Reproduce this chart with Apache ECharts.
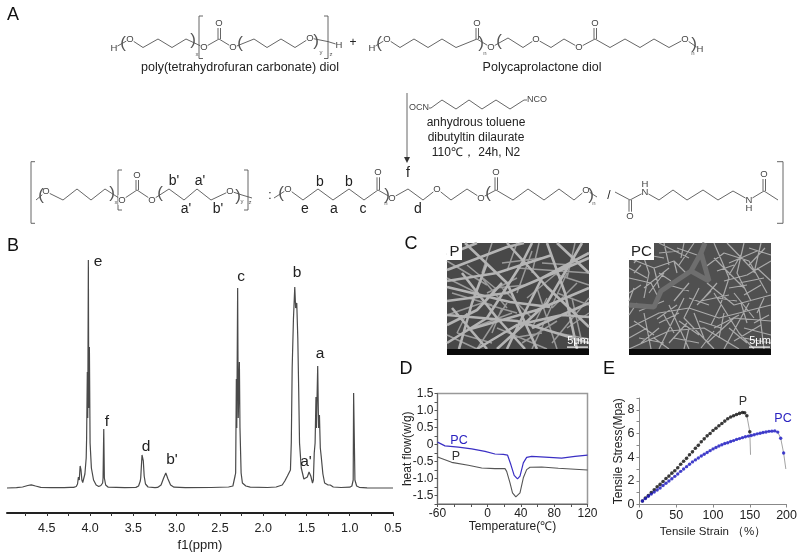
<!DOCTYPE html>
<html><head><meta charset="utf-8">
<style>html,body{margin:0;padding:0;background:#fff}#c{width:800px;height:556px}</style>
<script src="https://cdn.jsdelivr.net/npm/echarts@6/dist/echarts.min.js"></script>
</head><body><div id="c"></div>
<script>
// ---------- Panel B: 1H NMR spectrum ----------
const nmrPpm=[4.96,4.85,4.78,4.72,4.68,4.63,4.57,4.45,4.3,4.23,4.21,4.19,4.16,4.145,4.135,4.125,4.115,4.105,4.095,4.085,4.075,4.06,4.045,4.04,4.032,4.027,4.02,4.015,4.008,4.0,3.985,3.96,3.93,3.9,3.875,3.855,3.85,3.842,3.835,3.82,3.79,3.6,3.47,3.44,3.42,3.415,3.41,3.4,3.39,3.385,3.375,3.36,3.33,3.25,3.22,3.18,3.15,3.125,3.1,3.07,3.03,2.9,2.6,2.4,2.35,2.34,2.325,2.318,2.31,2.305,2.295,2.288,2.275,2.268,2.255,2.24,2.2,2.15,1.95,1.85,1.78,1.75,1.72,1.7,1.685,1.675,1.665,1.65,1.635,1.625,1.612,1.6,1.59,1.58,1.56,1.53,1.51,1.49,1.47,1.45,1.43,1.42,1.41,1.4,1.39,1.385,1.37,1.36,1.35,1.34,1.33,1.31,1.29,1.27,1.25,1.24,1.225,1.19,1.1,1.0,0.975,0.96,0.955,0.945,0.94,0.92,0.89,0.8,0.5];
const nmrInt=[0,0.3,1,2.5,3.2,2,0.7,0.3,0.3,0.6,1.2,0.6,1.5,4,11,8,22,18,8,5.5,5,14,30,50,116,70,228,80,141,45,20,8,3,1.5,2.5,5,10,59,10,3,0.8,0.3,0.6,2,7,10,9,33,33,27,12,4,1,0.3,0.6,3,10,15,9,3,0.8,0.3,0.5,1,2,6,12,15,109,60,200,70,126,60,15,5,2,0.8,0.5,1,3,7,12,13,18,46,120,170,201,180,185,150,100,45,20,9,7,11,16,12,5,8,35,45,91,60,122,60,73,40,32,14,5,3,3,5,3,1,0.5,0.8,2,8,95,95,8,2,0.7,0.2,0];
const nmrLabels=[0.5,1.0,1.5,2.0,2.5,3.0,3.5,4.0,4.5];
const nmrTicks=[0.5,0.75,1.0,1.25,1.5,1.75,2.0,2.25,2.5,2.75,3.0,3.25,3.5,3.75,4.0,4.25,4.5,4.75];

// ---------- Panel D: DSC curves ----------
const tempP=[-60,-43,-23,-7,9,21,23,27,30,34,39,43,47,51,65,85,120];
const flowP=[-0.37,-0.525,-0.61,-0.69,-0.71,-0.71,-0.79,-1.13,-1.42,-1.54,-1.42,-0.98,-0.74,-0.67,-0.66,-0.70,-0.75];
const tempPC=[-60,-51,-35,-19,-3,9,19,24,28,32,36,39,43,47,53,69,89,105,120];
const flowPC=[0.07,-0.04,-0.08,-0.13,-0.2,-0.28,-0.29,-0.31,-0.59,-0.91,-1.01,-0.93,-0.54,-0.38,-0.35,-0.37,-0.40,-0.35,-0.31];
const dscXLabels=[-60,0,40,80,120];
const dscXTicks=[-60,-40,-20,0,20,40,60,80,100,120];
const dscYLabels=[-1.5,-1,-0.5,0,0.5,1,1.5];
const dscYTicks=[-1.75,-1.5,-1.25,-1,-0.75,-0.5,-0.25,0,0.25,0.5,0.75,1,1.25,1.5];

// ---------- Panel E: tensile curves ----------
const strainP=[4,8,12,16,20,24,28,32,36,40,44,48,52,56,60,64,68,72,76,80,84,88,92,96,100,104,108,112,116,120,124,128,132,136,140,143,146,150];
const stressP=[0.3,0.55,0.75,1.0,1.25,1.5,1.7,1.95,2.2,2.4,2.65,2.85,3.1,3.4,3.65,3.9,4.2,4.45,4.75,5.0,5.3,5.55,5.8,6.0,6.25,6.45,6.65,6.85,7.05,7.25,7.4,7.5,7.6,7.7,7.78,7.75,7.5,6.15];
const tailP=[[151,4.2]];
const strainPC=[4,8,12,16,20,24,28,32,36,40,44,48,52,56,60,64,68,72,76,80,84,88,92,96,100,104,108,112,116,120,124,128,132,136,140,144,148,152,156,160,164,168,172,176,180,184,188,192,196];
const stressPC=[0.3,0.5,0.7,0.88,1.05,1.22,1.4,1.6,1.8,1.98,2.18,2.38,2.58,2.8,3.0,3.2,3.4,3.6,3.77,3.93,4.1,4.25,4.4,4.55,4.7,4.82,4.95,5.05,5.15,5.22,5.32,5.4,5.5,5.57,5.65,5.72,5.78,5.83,5.9,5.97,6.02,6.08,6.13,6.18,6.2,6.22,6.12,5.6,4.35];
const tailPC=[[199,3.0]];

// ---------- Panel A: reaction scheme (bond skeleton) ----------
const bonds=[
 [[114,48],[130,39],[143,47.5],[158,39],[172,47.5],[186,39],[204,47.5],[219,39],[233,47.5],[254,39],[267,47.5],[281,39],[295,47.5],[310,38],[328,41.6],[339,45]],
 [[218,39],[218,25]],[[220.5,39],[220.5,25]],
 [[203,16],[199,16],[199,58.5],[203,58.5]],[[324,16],[328,16],[328,58.5],[324,58.5]],
 [[372,48],[387,39],[400,47.5],[414,39],[428,47.5],[442,39],[456,47.5],[477,39],[491,47.5],[508,38],[523,47.5],[536,39],[551,47.5],[564,39],[579,47.5],[595,39],[610,47.5],[625,39],[640,47.5],[654,39],[669,47.5],[685,39],[700,49.4]],
 [[476,39],[476,25]],[[478.5,39],[478.5,25]],[[594,39],[594,25]],[[596.5,39],[596.5,25]],
 [[407,93],[407,158]],
 [[419,108],[431,108],[442,100],[456,109],[469,100],[482,109],[496,100],[510,109],[524,100],[537,100]],
 [[36,200],[46,191.6],[63,200],[77,189],[91,200],[105,189],[122,200],[137,190],[152,200],[169,189],[184,200],[197,189],[211,200],[230,191],[242,195],[252,198]],
 [[136,190],[136,178]],[[138.5,190],[138.5,178]],
 [[122,170],[118,170],[118,210],[122,210]],[[244,170],[248,170],[248,210],[244,210]],
 [[274,198],[288,189],[303,200],[318,189],[333,200],[349,189],[364,200],[378,190],[392,198],[408,189],[423,200],[437,189],[451,200],[467,189],[481,198],[496,190],[513,200],[528,189],[544,200],[559,189],[574,200],[586,190],[597,197]],
 [[377,190],[377,176]],[[379.5,190],[379.5,176]],[[495,190],[495,176]],[[497.5,190],[497.5,176]],
 [[615,192],[630,200],[645,192],[659,200],[673,190],[687,200],[703,190],[718,200],[733,191],[749,200],[764,191],[778,200]],
 [[629,200],[629,212]],[[631.5,200],[631.5,212]],[[763,191],[763,178]],[[765.5,191],[765.5,178]],
 [[35,161.7],[31,161.7],[31,223.3],[35,223.3]],[[777,161.7],[783,161.7],[783,223.3],[777,223.3]]
];

// ---------- Panel C: fibre outlines of the two micrographs (image-relative) ----------
const fibresPThick=[
 [[0,27],[60,4],[77,0]],[[0,44],[63,59],[103,64]],[[20,87],[90,67],[142,45]],[[0,82],[30,67],[55,40]],[[60,0],[100,44],[142,84]],
 [[0,100],[40,75],[75,20],[85,0]],[[30,0],[0,12]],[[142,10],[95,35],[70,85],[60,106]],[[15,30],[50,75],[78,106]],[[0,58],[60,50],[142,15]],
 [[100,0],[118,50],[130,106]],[[30,106],[70,82],[115,72],[142,74]],[[5,65],[40,106]],[[110,0],[142,30]],[[40,20],[25,60],[12,106]],
 [[0,38],[50,30],[105,12]],[[0,72],[70,78],[142,100]],[[50,106],[100,60],[135,0]],[[18,0],[60,40],[90,106]],[[85,85],[142,60]]
];
const fibresPThin=[
 [[45,0],[35,30]],[[70,25],[142,30]],[[20,22],[48,45],[80,42]],[[85,8],[70,50]],[[90,45],[110,106]],[[120,30],[85,106]],[[142,55],[105,100]],[[0,72],[35,60],[70,70]],
 [[50,85],[100,106]],[[60,60],[30,106]],[[128,0],[120,35]],[[142,62],[110,50]],[[95,20],[125,22]],[[0,35],[30,50]],[[75,100],[110,78]],[[10,90],[45,100]],
 [[55,20],[95,15]],[[35,35],[60,65]],[[100,55],[85,85]],[[125,55],[135,100]],
 [[0,18],[40,42]],[[0,92],[30,106]],[[25,85],[65,70]],[[65,95],[95,90]],[[105,30],[142,42]],[[110,90],[142,96]],[[70,0],[60,28]],[[40,50],[70,35]],[[80,55],[110,30]],[[120,85],[142,70]],
 [[5,50],[45,62]],[[20,70],[10,90]],[[55,45],[85,75]],[[92,0],[85,30]],[[130,40],[105,65]],[[45,90],[55,65]]
];
const fibresPCThick=[
 [[0,62],[25,64],[32,48],[62,28],[72,10],[76,0]],[[62,28],[80,38],[72,10]]
];
const fibresPCThin=[
 [[0,15],[25,25],[45,18],[57,30]],[[10,0],[20,30],[15,55]],[[0,35],[22,40],[28,52]],[[25,25],[30,45]],[[45,18],[48,30]],[[35,0],[40,22]],[[55,0],[52,15]],
 [[75,25],[95,10],[120,18],[138,50]],[[85,0],[100,35],[92,60]],[[115,0],[108,30],[122,58]],[[142,18],[118,32],[95,38]],[[78,40],[105,62],[142,52]],[[132,0],[125,30]],
 [[0,85],[30,70],[60,65],[90,75],[142,62]],[[0,106],[40,88],[75,85],[110,106]],[[40,62],[60,106]],[[55,55],[30,106]],[[70,45],[55,75],[85,106]],[[85,50],[110,90],[125,106]],
 [[142,78],[105,75],[78,100]],[[120,60],[95,106]],[[142,92],[115,85]],[[15,70],[22,106]],[[8,60],[0,72]],[[30,80],[50,70]],[[65,70],[75,95]],[[95,70],[90,95]],
 [[130,65],[135,106]],[[110,40],[135,35]],[[85,15],[115,45]],[[60,40],[45,58]],[[5,20],[15,8]],[[30,10],[50,8]],[[100,20],[128,8]],[[45,95],[70,100]],[[10,95],[35,100]],
 [[105,50],[125,75]],[[72,58],[100,52]],
 [[0,50],[12,42]],[[18,12],[35,15]],[[5,30],[12,22]],[[30,30],[42,38]],[[48,5],[68,12]],[[88,28],[105,22]],[[120,5],[142,12]],[[128,25],[142,38]],[[100,45],[118,42]],
 [[60,55],[80,62]],[[35,72],[45,90]],[[50,78],[70,92]],[[5,78],[25,92]],[[0,95],[18,85]],[[85,85],[110,72]],[[115,95],[142,100]],[[125,80],[140,72]],[[100,85],[118,100]],
 [[88,55],[108,58]],[[70,78],[92,85]],[[25,95],[40,106]],[[60,85],[55,106]],[[135,55],[128,70]],[[112,60],[118,80]],
 [[30,0],[60,15]],[[0,25],[18,35]],[[35,30],[20,50]],[[40,42],[60,48]],[[15,45],[40,25]],[[5,45],[0,58]],[[65,0],[50,22]],[[88,40],[75,55]],[[98,0],[125,28]],[[112,12],[100,32]],
 [[136,5],[120,22]],[[132,42],[115,52]],[[10,68],[35,58]],[[48,62],[28,76]],[[68,62],[82,48]],[[12,100],[30,85]],[[40,100],[58,80]],[[72,105],[85,88]],[[105,98],[132,82]],[[92,62],[82,82]]
];

// ---------- Text annotations ----------
const panelLetters=[['A',13,15],['B',13,246],['C',411,244],['D',406,369],['E',609,369]];
const schemeText=[
 ['poly(tetrahydrofuran carbonate) diol',240,68,12.5],['Polycaprolactone diol',542,68,12.5],['+',353,43,12],
 ['anhydrous toluene',476,123,12],['dibutyltin dilaurate',476,138,12],['110℃， 24h, N2',476,153,12],
 ["b'",174,181,14],["a'",200,181,14],["a'",186,209,14],["b'",218,209,14],['b',320,182,14],['b',349,182,14],
 ['e',305,209,14],['a',334,209,14],['c',363,209,14],['d',418,209,14],['f',408,173,14],[':',270,196,12],['/',609,196,12]
];
const atomText=[
 ['O',130,39],['H',114,48],['O',204,47.5],['O',219,23],['O',233,47.5],['O',310,38],['H',339,45],
 ['H',372,48],['O',387,39],['O',477,23],['O',491,47.5],['O',536,39],['O',579,47.5],['O',595,23],['O',685,39],['H',700,49.4],
 ['OCN',419,108],['NCO',537,100],
 ['O',46,191.6],['O',122,200],['O',137,175],['O',152,200],['O',230,191],
 ['O',288,189],['O',378,172.3],['O',392,198],['O',437,189],['O',481,198],['O',496,172.3],['O',586,190],
 ['O',630,216.7],['N',645,192],['H',645,184],['N',749,200],['H',749,208],['O',764,174]
];
const parenText=[['(',123,43,'('],[')',193,40,')'],['(',240,43,'('],[')',316,41.6,')'],['(',379,43,'('],[')',481,43,')'],['(',499,41.6,'('],[')',694,44,')'],
 ['(',41,195,'('],[')',112,193.6,')'],['(',160,193.6,'('],[')',238,196,')'],['(',281,193.6,'('],[')',387,195.5,')'],['(',488,193.6,'('],[')',591,195,')']];
const subText=[['x',197,54],['y',321,52],['z',331,54],['n',485,53],['n',693,53],['x',116,202.7],['y',242,201],['z',250,202.7],['n',386,203.3],['n',594,203.3]];
const peakLabels=[['e',98,262],['f',107,422],['d',146,447],["b'",172,460],['c',241,277],['b',297,273],["a'",306,462],['a',320,354]];

const FONT='"Liberation Sans",Arial,sans-serif';
const g=[];
function T(s,x,y,size,color,extra){
  g.push(Object.assign({type:'text',x:x,y:y,z:50,style:Object.assign({text:s,fontSize:size,fontFamily:FONT,fill:color||'#222',align:'center',verticalAlign:'middle'},extra||{})}));
}
panelLetters.forEach(a=>T(a[0],a[1],a[2],18,'#111'));
atomText.forEach(a=>T(a[0],a[1],a[2],a[0].length>1?9:9.5,'#444',{backgroundColor:'#fff'}));
schemeText.forEach(a=>T(a[0],a[1],a[2],a[3],'#222'));
parenText.forEach(a=>T(a[3],a[1],a[2],17,'#555',{fontWeight:'lighter'}));
subText.forEach(a=>T(a[0],a[1],a[2],6,'#555'));
peakLabels.forEach(a=>T(a[0],a[1],a[2],15.5,'#222'));
// arrow head
g.push({type:'polygon',z:50,shape:{points:[[404,157],[410,157],[407,163]]},style:{fill:'#333'}});
// SEM overlays
function semDecor(x0,label,w){
  g.push({type:'rect',z:40,shape:{x:x0,y:349,width:142,height:6},style:{fill:'#0a0a0a'}});
  g.push({type:'rect',z:40,shape:{x:x0,y:243,width:w,height:17},style:{fill:'#fff'}});
  T(label,x0+w/2,252,15,'#222');
  T('5μm',x0+131,341,11,'#fff');
  g.push({type:'rect',z:40,shape:{x:x0+120,y:346.5,width:21,height:1.2},style:{fill:'#fff'}});
}
semDecor(447,'P',15);semDecor(629,'PC',25);
T('PC',459,441,12.5,'#2a22c0');T('P',456,457,12.5,'#333');
T('P',743,402,12.5,'#333');T('PC',783,419,12.5,'#2a22c0');
T('f1(ppm)',200,545,13,'#222');

// helpers
const sep=a=>{const o=[];a.forEach(p=>{p.forEach(q=>o.push(q));o.push([null,null]);});return o;};
const zip=(x,y)=>x.map((v,i)=>[v,y[i]]);
const hiddenX=(gi,min,max)=>({gridIndex:gi,type:'value',min,max,show:false});
const hiddenY=(gi,min,max)=>({gridIndex:gi,type:'value',min,max,inverse:true,show:false});
const lab={fontFamily:FONT,fontSize:12.5,color:'#222'};
const labD={fontFamily:FONT,fontSize:12,color:'#222'};
const nameLab={fontFamily:FONT,fontSize:12,color:'#222'};
const fmt1=v=>v===0?'0':Number(v).toFixed(1);
function lineS(xi,data,color,w,z){return {type:'line',xAxisIndex:xi,yAxisIndex:xi,data,showSymbol:false,symbol:'none',connectNulls:false,smooth:false,silent:true,lineStyle:{color,width:w},z:z||2};}

const option={
 animation:false,backgroundColor:'#fff',textStyle:{fontFamily:FONT},
 graphic:{elements:g},
 grid:[
  {left:0,top:0,width:800,height:556,show:false},
  {left:7,top:250,width:386,height:263,show:false},
  {left:447,top:243,width:142,height:112,show:true,backgroundColor:'#484848',borderWidth:0},
  {left:629,top:243,width:142,height:112,show:true,backgroundColor:'#505050',borderWidth:0},
  {left:437.5,top:393.5,width:150,height:110.5,show:true,borderColor:'#999',borderWidth:1.5},
  {left:639.5,top:398,width:148,height:106.5,show:false}
 ],
 xAxis:[
  hiddenX(0,0,800),
  {gridIndex:1,type:'value',inverse:true,min:0.5,max:4.96,splitLine:{show:false},
   axisLine:{show:true,onZero:false,lineStyle:{color:'#222',width:2}},
   axisTick:{show:true,length:3,customValues:nmrTicks,lineStyle:{color:'#333'}},
   axisLabel:Object.assign({},lab,{margin:9,customValues:nmrLabels,formatter:v=>Number(v).toFixed(1)})},
  hiddenX(2,0,142),hiddenX(3,0,142),
  {gridIndex:4,type:'value',min:-60,max:120,splitLine:{show:false},name:'Temperature(℃)',nameLocation:'middle',nameGap:17,nameMoveOverlap:false,nameTextStyle:nameLab,
   axisLine:{show:true,onZero:false,lineStyle:{color:'#666',width:1}},
   axisTick:{show:true,length:3,customValues:dscXTicks,lineStyle:{color:'#555'}},
   axisLabel:Object.assign({},labD,{margin:4,customValues:dscXLabels,formatter:v=>String(v)})},
  {gridIndex:5,type:'value',min:0,max:200,interval:50,splitLine:{show:false},name:'Tensile Strain （%）',nameLocation:'middle',nameGap:21.5,nameMoveOverlap:false,nameTextStyle:Object.assign({},nameLab,{fontSize:11.5}),
   axisLine:{show:true,onZero:false,lineStyle:{color:'#888',width:1}},
   axisTick:{show:true,length:3,lineStyle:{color:'#888'}},
   axisLabel:Object.assign({},lab,{margin:5})}
 ],
 yAxis:[
  hiddenY(0,0,556),
  {gridIndex:1,type:'value',min:-25,max:238,show:false},
  hiddenY(2,0,112),hiddenY(3,0,112),
  {gridIndex:4,type:'value',min:-1.75,max:1.5,splitLine:{show:false},name:'heat flow(w/g)',nameLocation:'middle',nameGap:24,nameMoveOverlap:false,nameTextStyle:nameLab,
   axisLine:{show:true,onZero:false,lineStyle:{color:'#666',width:1}},
   axisTick:{show:true,length:3,customValues:dscYTicks,lineStyle:{color:'#555'}},
   axisLabel:Object.assign({},labD,{margin:4,customValues:dscYLabels,formatter:fmt1})},
  {gridIndex:5,type:'value',min:0,max:9,splitLine:{show:false},name:'Tensile Stress(Mpa)',nameLocation:'middle',nameGap:14.5,nameMoveOverlap:false,nameTextStyle:nameLab,
   axisLine:{show:true,onZero:false,lineStyle:{color:'#888',width:1}},
   axisTick:{show:true,length:3,customValues:[0,1,2,3,4,5,6,7,8,9],lineStyle:{color:'#888'}},
   axisLabel:Object.assign({},lab,{margin:5,customValues:[0,2,4,6,8],formatter:v=>String(v)})}
 ],
 series:[
  lineS(0,sep(bonds),'#555',0.9),
  lineS(1,zip(nmrPpm,nmrInt),'#4a4a4a',1.2),
  lineS(2,sep(fibresPThin),'#9a9a9a',1.5,2),
  lineS(2,sep(fibresPThick),'#b4b4b4',2.6,3),
  lineS(3,sep(fibresPCThin),'#aaaaaa',1.2,2),
  lineS(3,sep(fibresPCThick),'#6e6e6e',5,3),
  lineS(4,zip(tempP,flowP),'#555',1.1),
  lineS(4,zip(tempPC,flowPC),'#3a2fc4',1.2),
  lineS(5,zip(strainP,stressP).concat(tailP),'#999',0.9),
  lineS(5,zip(strainPC,stressPC).concat(tailPC),'#999',0.9),
  {type:'scatter',xAxisIndex:5,yAxisIndex:5,data:zip(strainP,stressP),symbolSize:3.6,itemStyle:{color:'#111'},silent:true,z:4},
  {type:'scatter',xAxisIndex:5,yAxisIndex:5,data:zip(strainPC,stressPC),symbolSize:3.4,itemStyle:{color:'#1c18c8'},silent:true,z:5}
 ]
};
echarts.init(document.getElementById('c'),null,{renderer:'canvas'}).setOption(option);
</script></body></html>
